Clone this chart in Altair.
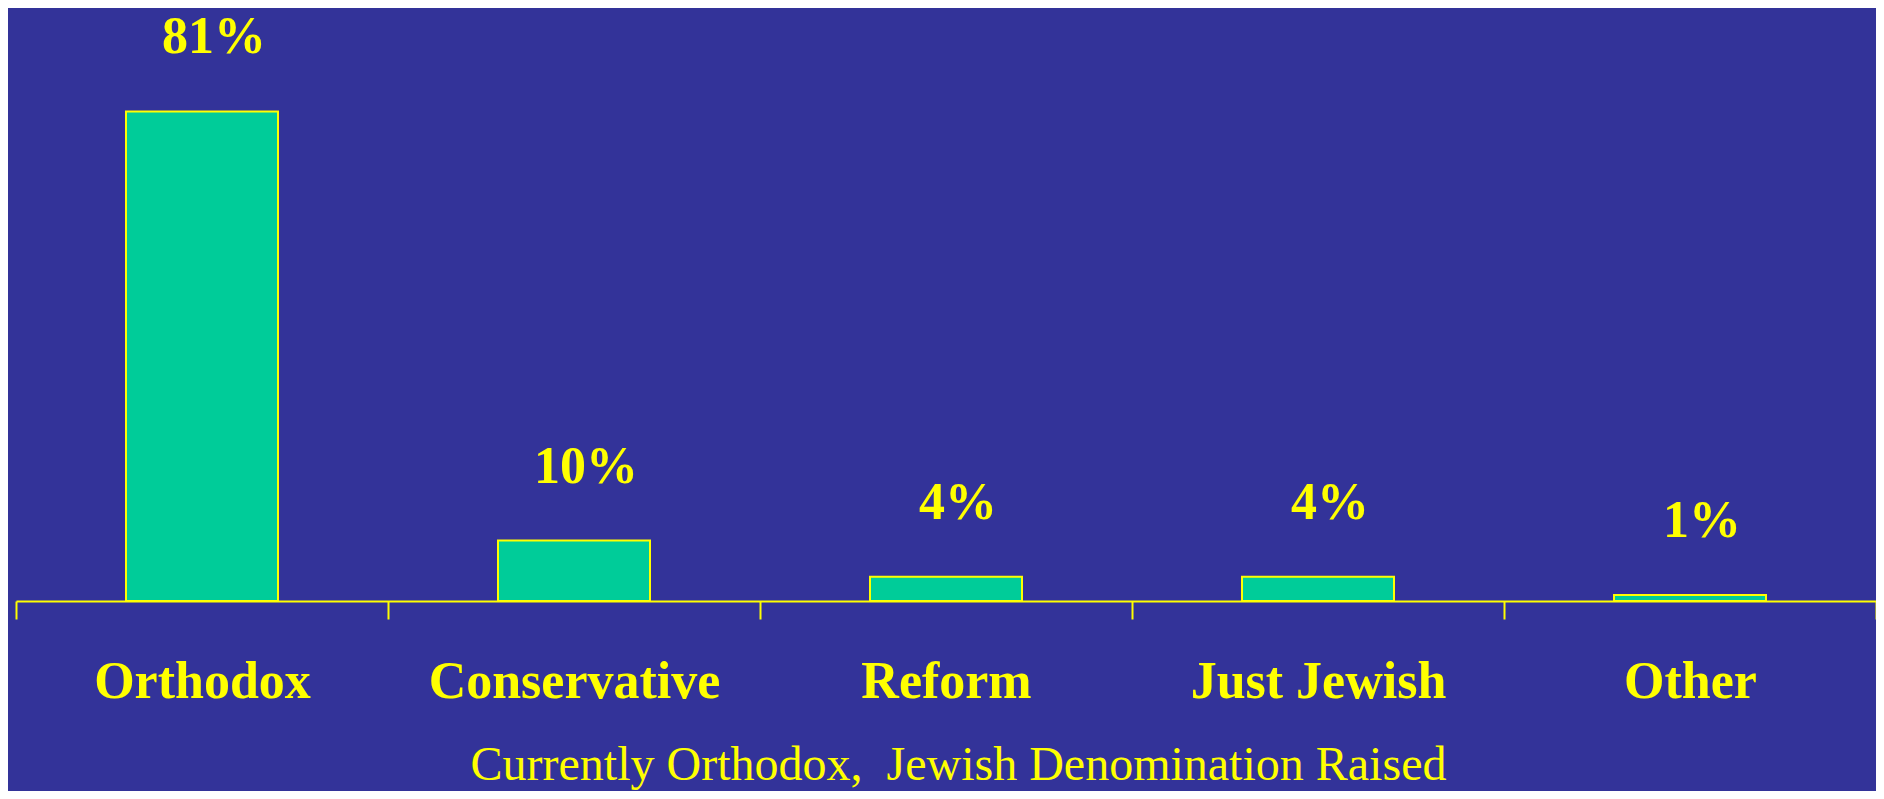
import altair as alt
import pandas as pd

categories = ["Orthodox", "Conservative", "Reform", "Just Jewish", "Other"]
values = [81, 10, 4, 4, 1]
value_labels = ["81%", "10%", "4%", "4%", "1%"]
axis_title = "Currently Orthodox,\u00a0 Jewish Denomination Raised"

df = pd.DataFrame({"cat": categories, "val": values, "lab": value_labels})

BG = "#333399"
YEL = "#FFFF00"
BAR = "#00CC99"
FONT = "Liberation Serif"

x = alt.X(
    "cat:N",
    sort=categories,
    scale=alt.Scale(paddingInner=0, paddingOuter=0),
    axis=alt.Axis(
        title=axis_title,
        titleFont=FONT,
        titleFontSize=48,
        titleFontWeight="normal",
        titleColor=YEL,
        titleBaseline="alphabetic",
        titleY=178,
        titleX=942,
        labelFont=FONT,
        labelFontSize=52,
        labelFontWeight="bold",
        labelColor=YEL,
        labelAngle=0,
        labelLimit=0,
        labelBaseline="alphabetic",
        labelPadding=78,
        domainColor=YEL,
        domainWidth=2,
        tickColor=YEL,
        tickWidth=2,
        tickSize=18,
        tickBand="extent",
    ),
)
y = alt.Y("val:Q", scale=alt.Scale(domain=[0, 90]), axis=None)

bars = alt.Chart(df).mark_bar(size=152, color=BAR, stroke=YEL, strokeWidth=2).encode(x=x, y=y)
texts = alt.Chart(df).mark_text(
    font=FONT, fontSize=52, fontWeight="bold", color=YEL,
    baseline="alphabetic", dy=-58, dx=12
).encode(x=alt.X("cat:N", sort=categories), y="val:Q", text="lab:N")

chart = (
    alt.layer(bars, texts)
    .properties(
        width=1860,
        height=544,
        background=BG,
        padding={"left": 8, "right": 0, "top": 49, "bottom": 190},
        autosize=alt.AutoSizeParams(type="none"),
    )
    .configure_view(stroke=None)
)

chart.save("out.html", embed_options={"renderer": "svg", "actions": False})
